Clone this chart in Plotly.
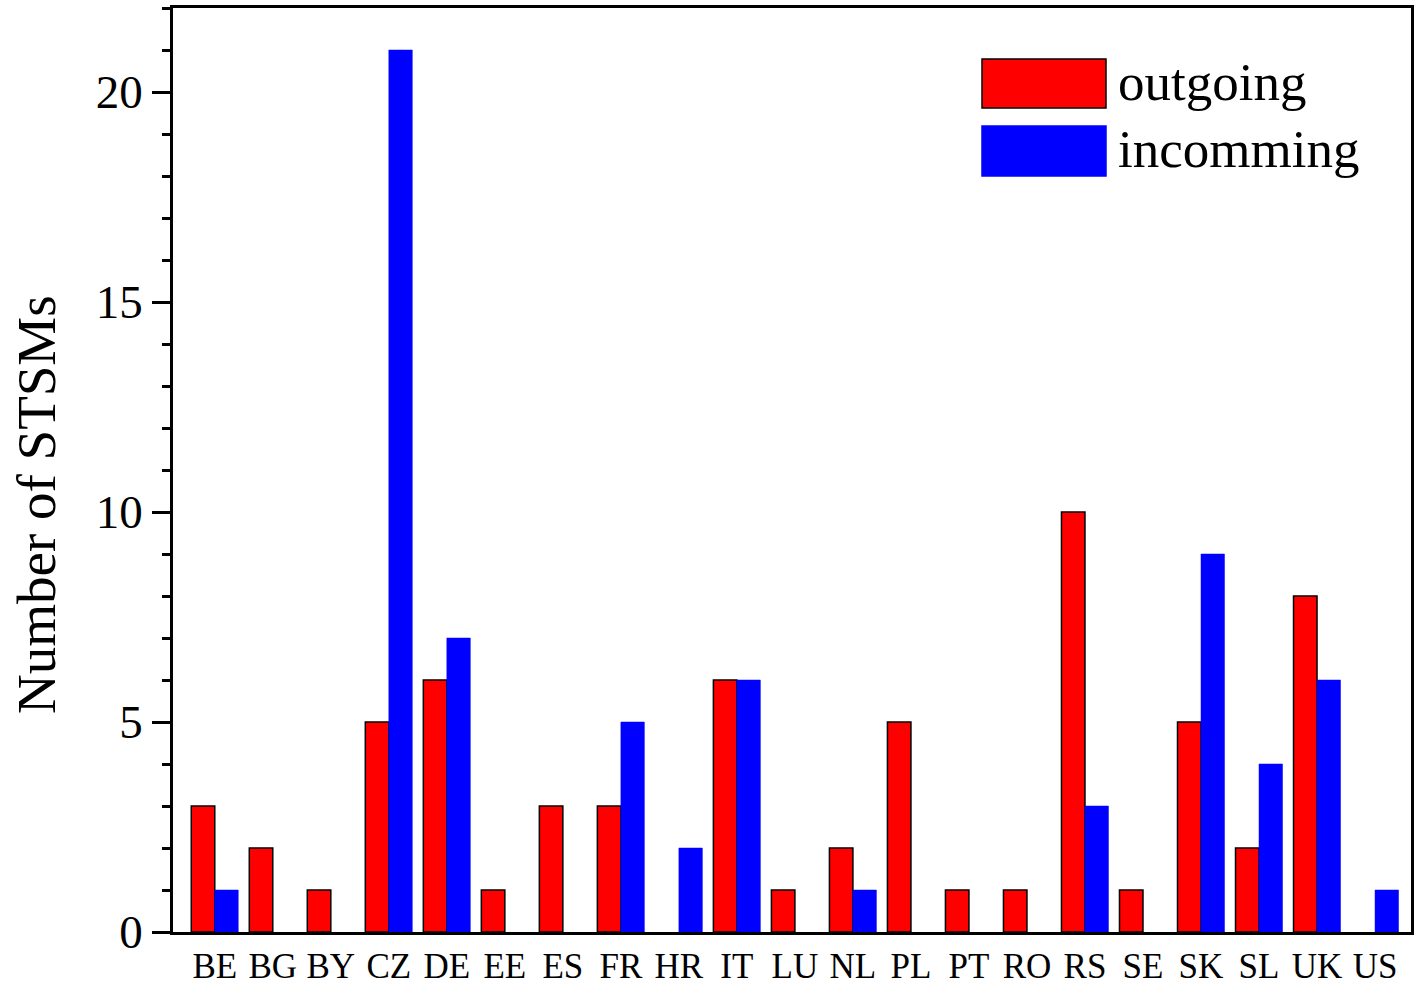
import plotly.graph_objects as go

countries = ["BE", "BG", "BY", "CZ", "DE", "EE", "ES", "FR", "HR", "IT", "LU",
             "NL", "PL", "PT", "RO", "RS", "SE", "SK", "SL", "UK", "US"]
outgoing = [3, 2, 1, 5, 6, 1, 3, 3, 0, 6, 1, 2, 5, 1, 1, 10, 1, 5, 2, 8, 0]
incoming = [1, 0, 0, 21, 7, 0, 0, 5, 2, 6, 0, 1, 0, 0, 0, 3, 0, 9, 4, 6, 1]
y_ticks = [0, 5, 10, 15, 20]

FONT = "Liberation Serif, Times New Roman, serif"
RED = "#ff0000"
BLUE = "#0000ff"

def nz(vals):
    # zero-height bars are not drawn in the reference
    return [v if v else None for v in vals]

fig = go.Figure()
fig.add_trace(go.Bar(x=countries, y=nz(outgoing), name="outgoing",
                     marker=dict(color=RED, line=dict(color="black", width=1.5))))
fig.add_trace(go.Bar(x=countries, y=nz(incoming), name="incomming",
                     marker=dict(color=BLUE, line=dict(color=BLUE, width=0.5))))

W, H = 1415, 985
L, R, T, B = 173, 4, 8, 53
pw, ph = W - L - R, H - T - B

def px(x):
    return (x - L) / pw

def py(y):
    return (H - B - y) / ph

# custom legend (large swatches as in the reference)
legend_items = [("outgoing", RED, "black", 59, 108),
                ("incomming", BLUE, BLUE, 126, 176)]
shapes = []
annotations = []
for label, fill, edge, y0, y1 in legend_items:
    shapes.append(dict(type="rect", xref="paper", yref="paper",
                       x0=px(982), x1=px(1106), y0=py(y1), y1=py(y0),
                       fillcolor=fill, line=dict(color=edge, width=1.5)))
    annotations.append(dict(xref="paper", yref="paper", x=px(1116),
                            y=py((y0 + y1) / 2 - 2), text=label, showarrow=False,
                            xanchor="left", yanchor="middle",
                            font=dict(family=FONT, size=53, color="black")))

# y-axis title
annotations.append(dict(xref="paper", yref="paper", x=px(37), y=py(505),
                        text="Number of STSMs", showarrow=False, textangle=-90,
                        xanchor="center", yanchor="middle",
                        font=dict(family=FONT, size=55, color="black")))

fig.update_layout(
    width=W, height=H,
    margin=dict(l=L, r=R, t=T, b=B, pad=0, autoexpand=False),
    paper_bgcolor="white", plot_bgcolor="white",
    barmode="group", bargap=0.19, bargroupgap=0,
    showlegend=False,
    font=dict(family=FONT, color="black"),
    shapes=shapes, annotations=annotations,
)
fig.update_xaxes(
    range=[-0.72, 20.62], showgrid=False, zeroline=False, automargin=False,
    showline=True, linecolor="black", linewidth=2.5, mirror=True,
    ticks="", ticklabelstandoff=1,
    tickfont=dict(family=FONT, size=35, color="black"),
)
fig.update_yaxes(
    range=[0, 22], showgrid=False, zeroline=False, automargin=False,
    showline=True, linecolor="black", linewidth=2.5, mirror=True,
    tickmode="array", tickvals=y_ticks, ticktext=[str(v) for v in y_ticks],
    ticks="outside", ticklen=18, tickwidth=2.5, tickcolor="black",
    minor=dict(dtick=1, ticks="outside", ticklen=8, tickwidth=2.5, tickcolor="black"),
    tickfont=dict(family=FONT, size=47, color="black"),
)

fig.write_html("out.html")
